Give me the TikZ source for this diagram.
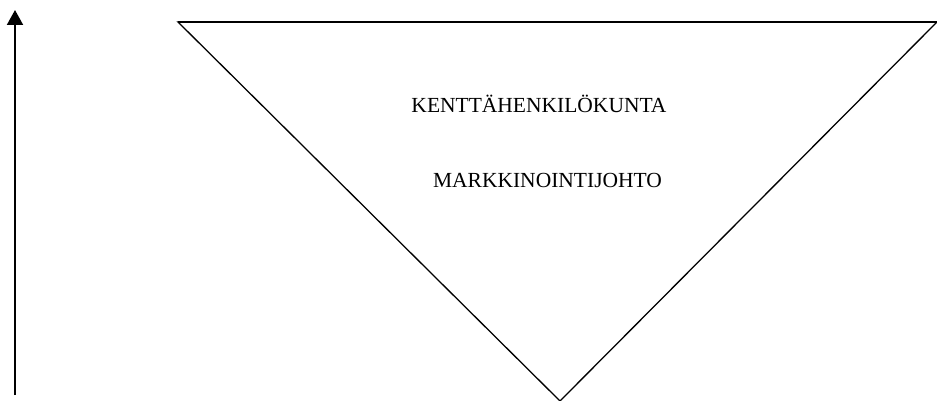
\documentclass[tikz,border=0pt]{standalone}
\usepackage{fontspec}
\setmainfont{Liberation Serif}
\usetikzlibrary{positioning, arrows.meta}

\begin{document}
\begin{tikzpicture}[x=1pt, y=-1pt,
	levelText/.style={font=\fontsize{21.5}{25}\selectfont, inner sep=0pt, anchor=base},
	pyramidEdge/.style={draw=black, line width=1.3pt, line join=miter}]
	\useasboundingbox (0,0) rectangle (937,401);
	\coordinate (topLeft) at (178,22);
	\coordinate (topRight) at (937,22);
	\coordinate (bottomTip) at (560,401);
	\draw[pyramidEdge] (topLeft) -- (topRight) -- (bottomTip) -- cycle;
	\draw[pyramidEdge, line width=1.8pt] (topLeft) -- (topRight);
	\node[levelText] (staff) at (539,113) {KENTTÄHENKILÖKUNTA};
	\node[levelText] (management) at (547.5,187) {MARKKINOINTIJOHTO};
	\coordinate (arrowFoot) at (15,395);
	\coordinate (arrowTop) at (15,10);
	\draw[-{Triangle[length=15pt, width=16pt]}, line width=2pt] (arrowFoot) -- (arrowTop);
\end{tikzpicture}
\end{document}
